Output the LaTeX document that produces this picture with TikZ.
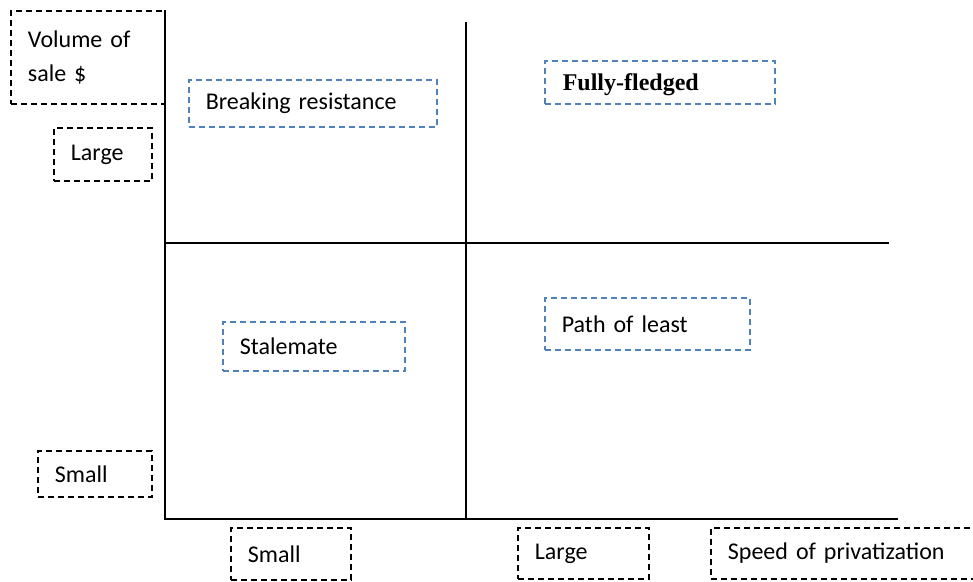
\documentclass[tikz,border=0pt]{standalone}
\usepackage{fontspec}
\setmainfont{Carlito}
\newfontfamily\timesbold{Liberation Serif}[BoldFont={Liberation Serif Bold}]
\definecolor{officeblue}{RGB}{79,129,189}

\tikzset{%
  % Specifications for style of nodes:
         axisbox/.style = {rectangle, draw = black, dashed, dash pattern=on 6pt off 4pt, line width=1.8pt, inner xsep=17pt, inner ysep=2pt, align=left, anchor=north west, font=\fontsize{24}{34}\selectfont},
         zonebox/.style = {axisbox, draw = officeblue, line width=1.6pt},
         axisline/.style = {line width=1.8pt},
}

\begin{document}
\begin{tikzpicture}[x=1pt, y=-1pt]
    \useasboundingbox (0,0) rectangle (973,581);

    % Draw axis labels
    \node (volume)      [axisbox, text width=120, minimum height=93] at (10,10)   {Volume of\\sale \$};
    \node (ylarge)      [axisbox, text width=64,  minimum height=53] at (53,127)  {Large};
    \node (ysmall)      [axisbox, text width=80,  minimum height=46] at (37,450)  {Small};
    \node (xsmall)      [axisbox, text width=86,  minimum height=52] at (230,527) {Small};
    \node (xlarge)      [axisbox, text width=97,  minimum height=51] at (517,527) {Large};
    \node (speed)       [axisbox, text width=260, minimum height=51] at (710,527) {Speed of privatization};

    % Draw quadrant labels
    \node (breaking)    [zonebox, text width=214, minimum height=47] at (188,79)  {Breaking resistance};
    \node (fully)       [zonebox, text width=194, minimum height=43, inner xsep=18pt, text depth=0pt, font=\fontsize{24}{34}\timesbold\bfseries] at (544,60) {Fully-fledged};
    \node (stalemate)   [zonebox, text width=148, minimum height=49] at (222,321) {Stalemate};
    \node (pathleast)   [zonebox, text width=171, minimum height=52] at (544,297) {Path of least};

    % Draw axes
    \coordinate (origin) at (165,519);
    \coordinate (ytop)   at (165,10);
    \coordinate (xend)   at (898,519);
    \coordinate (vtop)   at (466,22);
    \coordinate (vbot)   at (466,519);
    \coordinate (hleft)  at (165,243);
    \coordinate (hright) at (889,243);

    \draw[axisline]       (ytop) -- (origin) -- (xend);
    \draw[axisline]       (vtop) -- (vbot);
    \draw[axisline]       (hleft) -- (hright);

\end{tikzpicture}
\end{document}
